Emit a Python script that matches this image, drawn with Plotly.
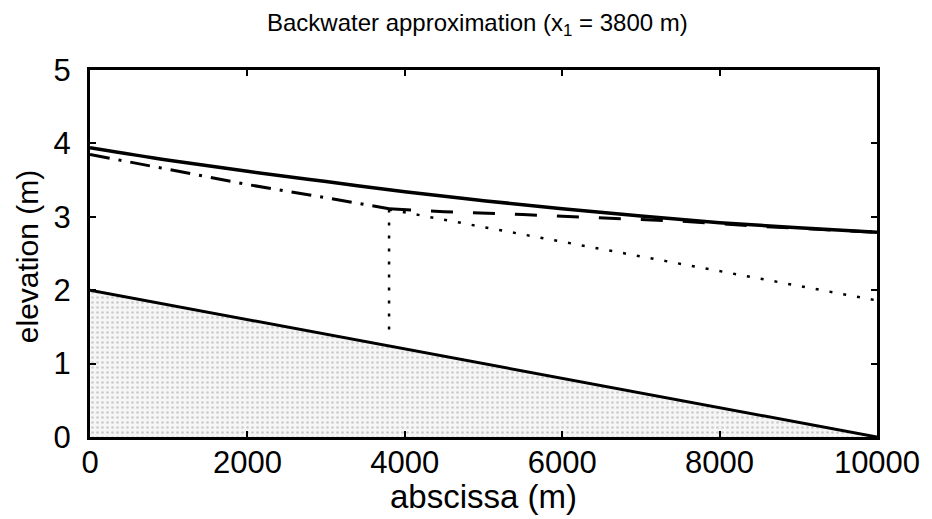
import plotly.graph_objects as go

# bed
bed_x = [0, 10000]
bed_y = [2.0, 0.0]

# full backwater curve (solid)
full_x = [0, 1000, 2000, 3000, 4000, 5000, 6000, 7000, 8000, 9000, 10000]
full_y = [3.94, 3.77, 3.62, 3.48, 3.34, 3.22, 3.11, 3.01, 2.92, 2.85, 2.79]

# upstream approximation (dash-dot)
up_x = [0, 1000, 2000, 3000, 3800]
up_y = [3.85, 3.64, 3.44, 3.26, 3.11]

# downstream approximation (dashed)
dn_x = [3800, 4500, 5500, 6500, 7500, 8500, 10000]
dn_y = [3.11, 3.07, 3.03, 2.98, 2.94, 2.87, 2.79]

# normal-depth line (dotted)
nd_x = [3800, 10000]
nd_y = [3.10, 1.86]

# vertical marker at x1
v_x = [3800, 3800]
v_y = [3.10, 1.42]

x_ticks = [0, 2000, 4000, 6000, 8000, 10000]
x_ticktext = ["0", "2000", "4000", "6000", "8000", "10000"]
y_ticks = [0, 1, 2, 3, 4, 5]

fig = go.Figure()
fig.add_trace(go.Scatter(x=bed_x, y=bed_y, mode="lines", fill="tozeroy",
                         line=dict(color="black", width=3),
                         fillcolor="rgba(235,235,235,0.6)",
                         fillpattern=dict(shape=".", fgcolor="#a0a0a0", bgcolor="#f6f6f6",
                                          size=5, solidity=0.22),
                         showlegend=False))
fig.add_trace(go.Scatter(x=nd_x, y=nd_y, mode="lines",
                         line=dict(color="black", width=2.5, dash="3px,11px"), showlegend=False))
fig.add_trace(go.Scatter(x=v_x, y=v_y, mode="lines",
                         line=dict(color="black", width=2.5, dash="3px,10px"), showlegend=False))
fig.add_trace(go.Scatter(x=dn_x, y=dn_y, mode="lines",
                         line=dict(color="black", width=3, dash="22px,20px"), showlegend=False))
fig.add_trace(go.Scatter(x=up_x, y=up_y, mode="lines",
                         line=dict(color="black", width=3, dash="20px,9px,3px,9px"), showlegend=False))
fig.add_trace(go.Scatter(x=full_x, y=full_y, mode="lines", line_shape="spline",
                         line=dict(color="black", width=3.5), showlegend=False))

FAM = "Liberation Sans, Arial, sans-serif"
tickfnt = dict(family=FAM, size=31, color="black")
# page body has an 8px default margin, so the figure is sized to fill the rest of the window
fig.update_layout(
    width=924, height=511,
    margin=dict(l=82, r=52, t=62, b=82),
    plot_bgcolor="white", paper_bgcolor="white",
    title=dict(text="Backwater approximation (x<sub>1</sub> = 3800 m)", x=0.508, xanchor="center",
               y=0.971, yanchor="middle", font=dict(family=FAM, size=24, color="black")),
    xaxis=dict(range=[0, 10000], tickvals=x_ticks, ticktext=x_ticktext,
               ticks="inside", ticklen=6, tickwidth=2, tickcolor="black",
               showline=True, linewidth=3, linecolor="black", mirror="ticks",
               showgrid=False, zeroline=False, tickfont=tickfnt, ticklabelstandoff=-4),
    yaxis=dict(range=[0, 5], tickvals=y_ticks,
               ticks="inside", ticklen=6, tickwidth=2, tickcolor="black",
               showline=True, linewidth=3, linecolor="black", mirror="ticks",
               showgrid=False, zeroline=False, tickfont=tickfnt, ticklabelstandoff=10),
    annotations=[
        dict(text="abscissa (m)", xref="paper", yref="paper", x=0.5, y=-0.163,
             xanchor="center", yanchor="middle", showarrow=False,
             font=dict(family=FAM, size=33, color="black")),
        dict(text="elevation (m)", xref="paper", yref="paper", x=-0.08, y=0.49,
             xanchor="center", yanchor="middle", showarrow=False, textangle=-90,
             font=dict(family=FAM, size=30, color="black")),
    ],
)
fig.write_html("out.html")
